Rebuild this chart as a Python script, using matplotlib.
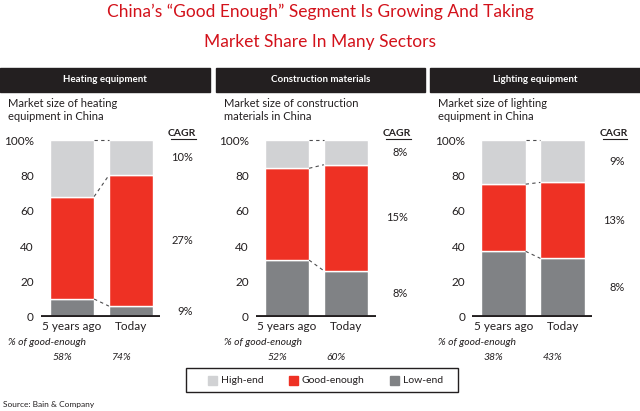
import matplotlib.pyplot as plt

plt.rcParams['font.family'] = ['Lato', 'DejaVu Sans']

panels = ["Heating equipment", "Construction materials", "Lighting equipment"]
subtitles = ["Market size of heating\nequipment in China",
             "Market size of construction\nmaterials in China",
             "Market size of lighting\nequipment in China"]
periods = ["5 years ago", "Today"]

# shares in % for [5 years ago, Today]
low_end = [[10, 6], [32, 26], [37, 33]]
good_enough = [[58, 74], [52, 60], [38, 43]]
high_end = [[32, 20], [16, 14], [25, 24]]
cagr = [["10%", "27%", "9%"], ["8%", "15%", "8%"], ["9%", "13%", "8%"]]
good_share = [["58%", "74%"], ["52%", "60%"], ["38%", "43%"]]

c_high = '#d1d2d4'
c_good = '#ee3124'
c_low = '#808285'
red_title = '#d3121b'

W, H = 640, 411
fig = plt.figure(figsize=(6.4, 4.11), dpi=100)

fig.text(0.5, 1 - 12 / H, "China\u2019s \u201cGood Enough\u201d Segment Is Growing And Taking",
         ha='center', va='center', color=red_title, fontsize=12.5)
fig.text(0.5, 1 - 42 / H, "Market Share In Many Sectors",
         ha='center', va='center', color=red_title, fontsize=12.5)

centers = [72, 287, 503.5]
headers = [(0, 210), (216, 425), (430, 640)]
spacing = 59.0
bw = 0.75
y0_px, y100_px = 316.7, 140.0

for i in range(3):
    c0 = centers[i]
    left = (c0 - 0.53 * spacing) / W
    width = 2.03 * spacing / W
    bottom = 1 - y0_px / H
    height = (y0_px - y100_px) / H
    ax = fig.add_axes([left, bottom, width, height])

    # header band
    hx0, hx1 = headers[i]
    fig.patches.append(plt.Rectangle((hx0 / W, 1 - 92 / H), (hx1 - hx0) / W, 24 / H,
                                     transform=fig.transFigure, color='#231f20', zorder=0))
    fig.text((hx0 + hx1) / 2 / W, 1 - 80 / H, panels[i], ha='center', va='center',
             color='white', fontsize=7, fontweight='bold')
    fig.text((hx0 + 8) / W, 1 - 98 / H, subtitles[i], ha='left', va='top',
             fontsize=8, color='#231f20', linespacing=1.25)

    x = [0, 1]
    lo = low_end[i]
    ge = good_enough[i]
    he = high_end[i]
    mid = [lo[k] + ge[k] for k in range(2)]
    ax.bar(x, lo, width=bw, color=c_low, edgecolor='white', linewidth=1)
    ax.bar(x, ge, bottom=lo, width=bw, color=c_good, edgecolor='white', linewidth=1)
    ax.bar(x, he, bottom=mid, width=bw, color=c_high, edgecolor='white', linewidth=1)

    # dashed connectors
    for a, b in [(lo[0], lo[1]), (mid[0], mid[1]), (100, 100)]:
        ax.plot([bw / 2, 1 - bw / 2], [a, b], color='#4d4d4f', lw=0.8,
                ls=(0, (3, 3)), clip_on=False)

    ax.axhline(0, color='#231f20', lw=3.5, zorder=5)
    ax.set_xlim(-0.53, 1.5)
    ax.set_ylim(0, 100)
    ax.set_yticks([0, 20, 40, 60, 80, 100])
    ax.set_yticklabels(["0", "20", "40", "60", "80", "100%"], fontsize=8.5, color='#231f20')
    ax.set_xticks(x)
    ax.set_xticklabels(periods, fontsize=8.5, color='#231f20')
    ax.tick_params(length=0, axis='y', pad=5)
    ax.tick_params(length=0, axis='x', pad=3)
    for s in ax.spines.values():
        s.set_visible(False)

    # CAGR column
    ax.text(2.1, 103.5, "CAGR", ha='right', va='center', fontsize=7.5,
            fontweight='bold', color='#231f20', clip_on=False)
    ax.plot([1.68, 2.1], [100.3, 100.3], color='#231f20', lw=0.8, clip_on=False)
    today_mids = [mid[1] + he[1] / 2, lo[1] + ge[1] / 2, lo[1] / 2]
    for val, ym in zip(cagr[i], today_mids):
        ax.text(2.05, ym, val, ha='right', va='center', fontsize=8,
                color='#231f20', clip_on=False)

    fig.text((hx0 + 8) / W, 1 - 342 / H, "% of good-enough", ha='left', va='center',
             fontsize=7.5, style='italic', color='#231f20')
    for k in range(2):
        fig.text((c0 - 10 + k * spacing) / W, 1 - 357 / H, good_share[i][k],
                 ha='center', va='center', fontsize=7.5, style='italic', color='#231f20')

# legend
fig.patches.append(plt.Rectangle((186 / W, 1 - 392 / H), 272 / W, 24 / H,
                                 transform=fig.transFigure, fill=False,
                                 edgecolor='#231f20', lw=1))
for label, col, xp in [("High-end", c_high, 208), ("Good-enough", c_good, 289),
                       ("Low-end", c_low, 390)]:
    fig.patches.append(plt.Rectangle((xp / W, 1 - 385 / H), 9 / W, 9 / H,
                                     transform=fig.transFigure, color=col))
    fig.text((xp + 13) / W, 1 - 380 / H, label, ha='left', va='center',
             fontsize=7.5, color='#231f20')

fig.text(3 / W, 1 - 404 / H, "Source: Bain & Company", ha='left', va='center',
         fontsize=6, color='#231f20')

fig.savefig('out.png', dpi=100)
